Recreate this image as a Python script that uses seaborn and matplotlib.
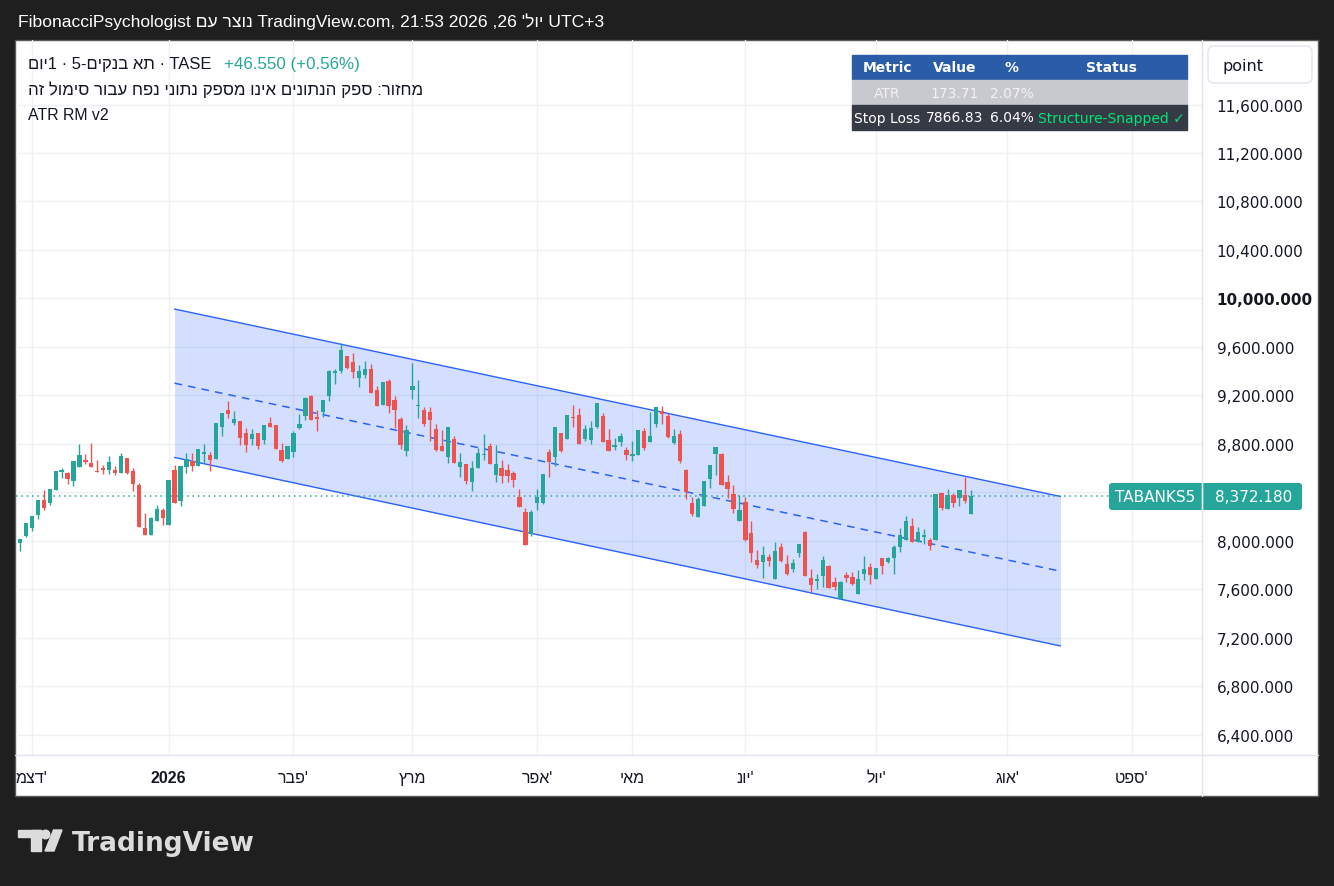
import numpy as np
import matplotlib
matplotlib.use("Agg")
import matplotlib.pyplot as plt
from matplotlib.patches import Rectangle, FancyBboxPatch, Circle, Polygon
import seaborn as sns

sns.set_theme(style="white")
plt.rcParams["font.family"] = ["DejaVu Sans"]

W, H = 1334, 887
HEB = ["Liberation Sans", "DejaVu Sans"]


def heb(s):
    # matplotlib has no bidi support: lay the Hebrew run out right-to-left
    return s[::-1]


# daily candles, TA-Banks5
opens = [7981, 8042, 8105, 8215, 8336, 8312, 8419, 8570, 8559, 8496,
         8612, 8661, 8642, 8578, 8595, 8587, 8584, 8559, 8683, 8576,
         8460, 8105, 8048, 8166, 8254, 8133, 8584, 8328, 8609, 8655,
         8617, 8719, 8708, 8675, 8939, 9079, 8972, 8988, 8889, 8840,
         8889, 8832, 8972, 8955, 8749, 8675, 8733, 8930, 9032, 9194,
         9021, 9062, 9194, 9384, 9401, 9525, 9475, 9343, 9368, 9417,
         9244, 9120, 9318, 9161, 9005, 8741, 9244, 9112, 9079, 9062,
         8922, 8782, 8691, 8840, 8609, 8633, 8485, 8600, 8708, 8782,
         8543, 8600, 8584, 8559, 8361, 8237, 8056, 8311, 8311, 8732,
         8691, 8889, 8840, 9021, 9038, 8840, 8831, 8939, 9029, 8831,
         8774, 8815, 8749, 8699, 8708, 8906, 8815, 8963, 9071, 9029,
         8807, 8881, 8584, 8311, 8196, 8287, 8510, 8716, 8716, 8485,
         8386, 8163, 8320, 8064, 7841, 7825, 7866, 7684, 7948, 7808,
         7767, 7899, 8075, 7692, 7668, 7709, 7791, 7659, 7519, 7717,
         7701, 7560, 7725, 7783, 7684, 7857, 7824, 7857, 7948, 8006,
         8122, 7990, 8031, 8006, 8006, 8394, 8262, 8377, 8353, 8377,
         8221]
highs = [8015, 8147, 8204, 8336, 8419, 8427, 8576, 8600, 8567, 8661,
         8799, 8716, 8807, 8667, 8625, 8697, 8614, 8724, 8683, 8600,
         8477, 8229, 8199, 8295, 8270, 8501, 8625, 8617, 8724, 8724,
         8757, 8799, 8733, 8972, 9054, 9153, 9071, 8988, 8931, 8922,
         8889, 8955, 9021, 8955, 8807, 8782, 8906, 9046, 9189, 9203,
         9079, 9159, 9409, 9417, 9629, 9525, 9549, 9450, 9483, 9459,
         9277, 9310, 9335, 9194, 9021, 8955, 9467, 9326, 9104, 9104,
         8963, 8914, 8939, 8864, 8724, 8633, 8658, 8765, 8881, 8807,
         8790, 8666, 8633, 8576, 8427, 8270, 8254, 8427, 8551, 8757,
         8939, 8889, 9038, 9120, 9096, 8955, 8988, 9137, 9054, 8922,
         8848, 8889, 8774, 8823, 8914, 8930, 9063, 9104, 9112, 9054,
         8922, 8914, 8592, 8361, 8361, 8493, 8625, 8774, 8724, 8543,
         8460, 8378, 8361, 8163, 7924, 7957, 7891, 7990, 7981, 7882,
         7849, 7973, 8083, 7767, 7725, 7874, 7800, 7701, 7668, 7742,
         7742, 7758, 7874, 7816, 7775, 7857, 7866, 7965, 8105, 8204,
         8188, 8113, 8097, 8023, 8386, 8394, 8427, 8394, 8419, 8526,
         8419]
lows = [7918, 8034, 8083, 8180, 8257, 8295, 8419, 8518, 8468, 8455,
        8612, 8633, 8612, 8570, 8551, 8551, 8543, 8559, 8551, 8411,
        8116, 8048, 8048, 8166, 8133, 8133, 8314, 8287, 8559, 8576,
        8617, 8642, 8576, 8675, 8865, 9013, 8955, 8790, 8733, 8790,
        8757, 8799, 8939, 8757, 8650, 8675, 8691, 8925, 8996, 8996,
        8908, 9024, 9156, 9294, 9384, 9417, 9343, 9269, 9343, 9219,
        9112, 9120, 9054, 8930, 8757, 8699, 9170, 9013, 8947, 8823,
        8741, 8741, 8641, 8641, 8526, 8468, 8410, 8600, 8666, 8633,
        8485, 8476, 8485, 8443, 8278, 7968, 8039, 8254, 8303, 8526,
        8617, 8732, 8840, 8939, 8798, 8823, 8798, 8930, 8815, 8741,
        8749, 8782, 8666, 8658, 8708, 8749, 8815, 8939, 8963, 8848,
        8798, 8642, 8345, 8204, 8196, 8287, 8435, 8543, 8460, 8353,
        8229, 8163, 7998, 7825, 7775, 7693, 7792, 7684, 7825, 7717,
        7742, 7866, 7709, 7577, 7602, 7618, 7610, 7593, 7519, 7659,
        7635, 7560, 7676, 7643, 7684, 7725, 7816, 7725, 7907, 8006,
        7990, 7990, 7973, 7924, 8006, 8254, 8262, 8278, 8287, 8311,
        8221]
closes = [8015, 8147, 8204, 8336, 8270, 8427, 8576, 8587, 8510, 8661,
          8708, 8653, 8612, 8570, 8587, 8650, 8559, 8700, 8559, 8468,
          8116, 8048, 8188, 8262, 8191, 8501, 8314, 8617, 8675, 8617,
          8757, 8724, 8667, 8972, 9054, 9046, 9005, 8848, 8790, 8881,
          8782, 8955, 8939, 8757, 8658, 8782, 8889, 8963, 9178, 8996,
          9007, 9159, 9401, 9401, 9574, 9426, 9392, 9401, 9417, 9219,
          9112, 9310, 9112, 9079, 8790, 8914, 9277, 9120, 8963, 8996,
          8749, 8741, 8939, 8641, 8650, 8493, 8600, 8724, 8716, 8633,
          8633, 8534, 8534, 8501, 8278, 7968, 8237, 8361, 8551, 8650,
          8939, 8741, 9038, 9013, 8798, 8922, 8930, 9137, 8815, 8741,
          8790, 8864, 8708, 8716, 8914, 8765, 8864, 9104, 9046, 8856,
          8864, 8658, 8402, 8221, 8345, 8493, 8625, 8774, 8460, 8427,
          8262, 8254, 8006, 7899, 7800, 7882, 7833, 7915, 7833, 7725,
          7816, 7973, 7709, 7635, 7684, 7841, 7610, 7618, 7659, 7692,
          7643, 7684, 7767, 7717, 7775, 7791, 7857, 7948, 8047, 8163,
          7990, 8072, 8047, 7957, 8386, 8270, 8377, 8311, 8419, 8326,
          8372.18]

# x axis: bar index where each month starts
month_pos = [2, 25, 46, 66, 87, 103, 122, 144, 166, 187]
month_labels = [heb("דצמ") + "'", "2026", heb("פבר") + "'", heb("מרץ"),
                heb("אפר") + "'", heb("מאי"), heb("יונ") + "'",
                heb("יול") + "'", heb("אוג") + "'", heb("ספט") + "'"]
price_ticks = [6400, 6800, 7200, 7600, 8000, 8400, 8800, 9200, 9600,
               10000, 10400, 10800, 11200, 11600]

# regression channel drawn on the chart
chan_x = [26, 175]
chan_upper = [9912, 8365]
chan_mid = [9300, 7748]
chan_lower = [8687, 7131]

last_price = 8372.18

# ATR table
tbl_header = ["Metric", "Value", "%", "Status"]
tbl_atr = ["ATR", "173.71", "2.07%", ""]
tbl_stop = ["Stop Loss", "7866.83", "6.04%", "Structure-Snapped \u2713"]

UP, DOWN = "#26a69a", "#ef5350"
BLUE = "#2962ff"
TXT = "#131722"

fig = plt.figure(figsize=(W / 100, H / 100), dpi=100, facecolor="#1f1f1f")

# background layer (pixel coordinates)
bg = fig.add_axes([0, 0, 1, 1], zorder=0)
bg.set_xlim(0, W)
bg.set_ylim(H, 0)
bg.axis("off")
bg.add_patch(Rectangle((15, 41), 1303, 756, facecolor="white",
                       edgecolor="#5a5a5a", lw=1))
bg.text(18, 22, "FibonacciPsychologist " + heb("נוצר עם")
        + " TradingView.com, 21:53 2026 ,26 " + heb("יול'") + " UTC+3",
        color="white", fontsize=12.6, va="center", family=HEB)
# TradingView logo
logo = "#dcdcdc"
bg.add_patch(Rectangle((18, 831), 23, 7.5, color=logo))
bg.add_patch(Rectangle((30.5, 831), 10.5, 21, color=logo))
bg.add_patch(Circle((45.5, 835.5), 4.3, color=logo))
bg.add_patch(Polygon([(45, 852), (53.5, 831), (62, 831), (54, 852)], color=logo))
bg.text(72, 851.5, "TradingView", color=logo, fontsize=19, fontweight="bold",
        va="baseline")

# price chart
ax = fig.add_axes([16 / W, 1 - 756 / H, (1202 - 16) / W, (756 - 41) / H], zorder=1)
ax.set_facecolor("none")

idx = np.arange(len(closes))
o = np.array(opens, dtype=float)
c = np.array(closes, dtype=float)
colors = [UP if cc >= oo else DOWN for oo, cc in zip(o, c)]

ax.fill_between(chan_x, chan_lower, chan_upper, color=BLUE, alpha=0.2, lw=0, zorder=1)
sns.lineplot(x=chan_x, y=chan_upper, ax=ax, color=BLUE, lw=1, zorder=2)
sns.lineplot(x=chan_x, y=chan_lower, ax=ax, color=BLUE, lw=1, zorder=2)
sns.lineplot(x=chan_x, y=chan_mid, ax=ax, color=BLUE, lw=1.1,
             linestyle=(0, (5, 4)), zorder=2)

ax.vlines(idx, lows, highs, colors=colors, lw=1, zorder=3)
body = np.maximum(np.abs(c - o), 9)
ax.bar(idx, body, bottom=np.minimum(o, c), width=0.72, color=colors, lw=0, zorder=4)

ax.axhline(last_price, color=UP, lw=1.1, ls=(0, (1, 2.5)), zorder=2.5)

ax.set_xlim(-0.67, 198.8)
ax.set_ylim(6231, 12133)
ax.set_xticks(month_pos)
ax.set_xticklabels(month_labels, family=HEB)
ax.set_yticks(price_ticks)
ax.set_yticklabels([f"{v:,.3f}" for v in price_ticks])
ax.yaxis.tick_right()
ax.tick_params(axis="y", length=0, pad=10.5, labelsize=11, labelcolor=TXT)
ax.tick_params(axis="x", length=0, pad=11, labelsize=11.5, labelcolor=TXT)
ax.get_xticklabels()[1].set_fontweight("bold")
ax.get_yticklabels()[price_ticks.index(10000)].set_fontweight("bold")
ax.grid(True, color="#eef0f3", lw=1)
ax.set_axisbelow(True)
ax.set_xlabel("")
ax.set_ylabel("")
sns.despine(ax=ax, left=True, bottom=True)

# overlay layer (pixel coordinates)
ov = fig.add_axes([0, 0, 1, 1], zorder=2)
ov.set_xlim(0, W)
ov.set_ylim(H, 0)
ov.axis("off")

# legend
ov.text(28, 64, heb("תא בנקים-5 · 1יום") + " · TASE", color=TXT, fontsize=12,
        va="center", family=HEB)
ov.text(224, 64, "+46.550 (+0.56%)", color=UP, fontsize=12.2, va="center", family=HEB)
ov.text(28, 90, heb("מחזור: ספק הנתונים אינו מספק נתוני נפח עבור סימול זה"),
        color=TXT, fontsize=12.2, va="center", family=HEB)
ov.text(28, 115, "ATR RM v2", color=TXT, fontsize=11.4, va="center", family=HEB)

# table
tx0, tx1 = 852, 1187
row_top = [56, 81, 106]
row_bg = ["#2a5ca8", "#c8c9ce", "#363a45"]
col_x = [887.5, 955, 1011.5, 1111.5]
for r, (cells, fill) in enumerate(zip([tbl_header, tbl_atr, tbl_stop], row_bg)):
    ov.add_patch(Rectangle((tx0, row_top[r]), tx1 - tx0, 25, color=fill))
    for j, cell in enumerate(cells):
        col = "white"
        if r == 1:
            col = "#f2f2f4"
        if r == 2 and j == 3:
            col = "#00e676"
        ov.text(col_x[j], row_top[r] + 12.5, cell, color=col, fontsize=10,
                ha="center", va="center",
                fontweight="semibold" if r == 0 else "normal")

# axis separators
ov.plot([1202, 1202], [41, 797], color="#e0e3eb", lw=1)
ov.plot([15, 1318], [756, 756], color="#e0e3eb", lw=1)

# "point" box
ov.add_patch(FancyBboxPatch((1208, 47), 104, 37, boxstyle="round,pad=0,rounding_size=6",
                            facecolor="white", edgecolor="#e0e3eb", lw=1))
ov.text(1222, 66, "point", color=TXT, fontsize=11.5, va="center")

# last price label
ov.add_patch(FancyBboxPatch((1109, 484), 193, 27, boxstyle="round,pad=0,rounding_size=3",
                            facecolor=UP, edgecolor="none"))
ov.plot([1202, 1202], [484, 511], color="#e9f3f2", lw=1)
ov.text(1155, 497.5, "TABANKS5", color="white", fontsize=11, ha="center", va="center")
ov.text(1215, 497.5, f"{last_price:,.3f}", color="white", fontsize=11, va="center")

fig.savefig("out.png", dpi=100, facecolor=fig.get_facecolor())
